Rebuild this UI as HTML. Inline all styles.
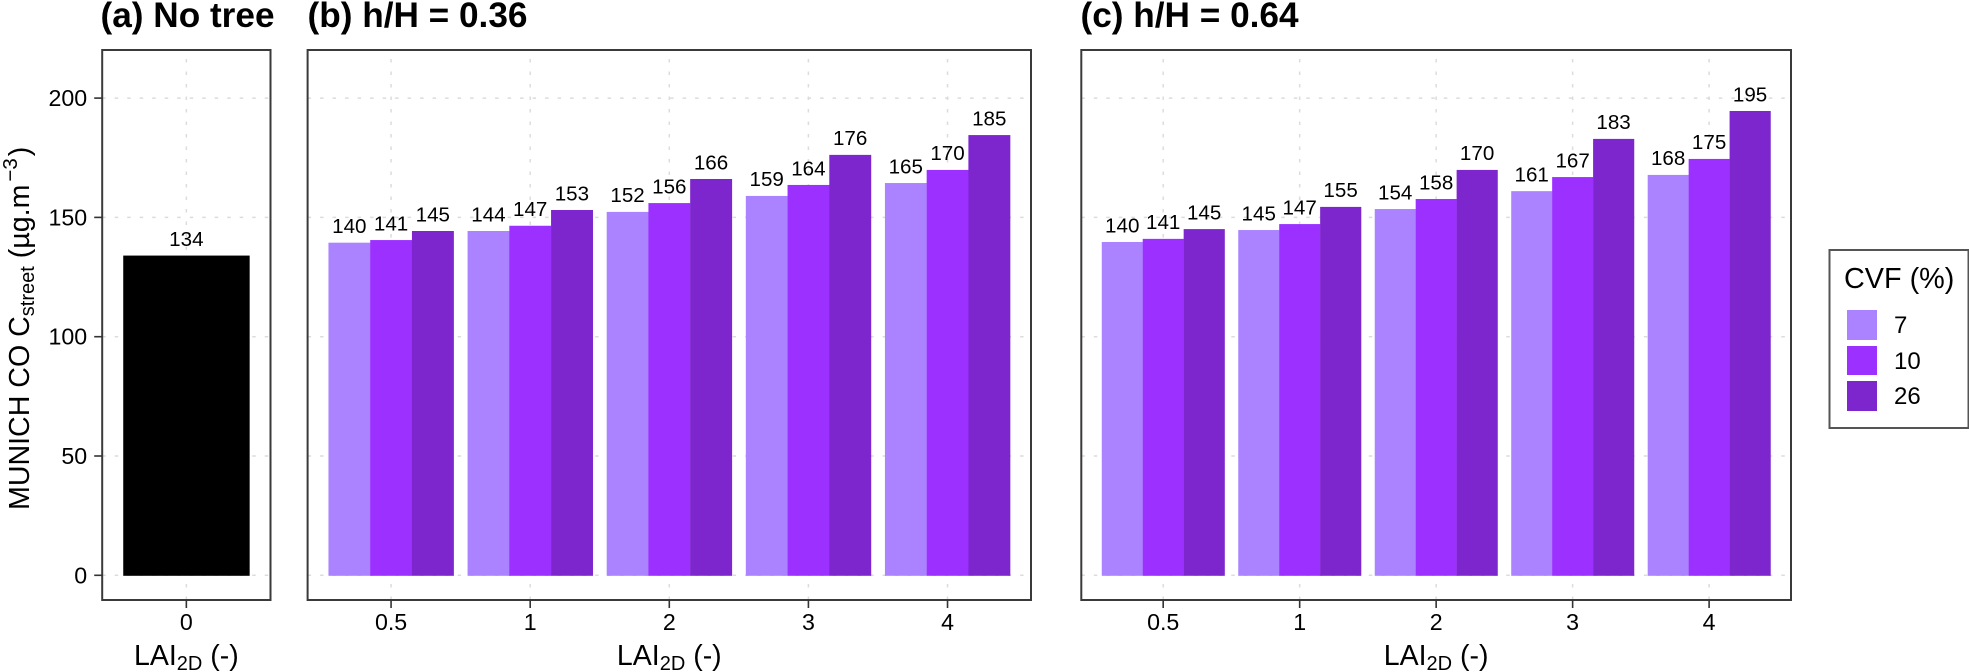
<!DOCTYPE html>
<html>
<head>
<meta charset="utf-8">
<title>MUNICH CO street concentration</title>
<style>
html,body{margin:0;padding:0;background:#fff;}
svg{display:block;}
text{font-family:"Liberation Sans",sans-serif;fill:#000;}
</style>
</head>
<body>
<svg id="chart" xmlns="http://www.w3.org/2000/svg" width="1969" height="672" viewBox="0 0 1969 672">
  <rect x="0" y="0" width="1969" height="672" fill="#fff"/>
  <text x="100.5" y="27" font-size="35.2" font-weight="bold">(a) No tree</text>
  <text x="307.5" y="27" font-size="35.2" font-weight="bold">(b) h/H = 0.36</text>
  <text x="1080.5" y="27" font-size="35.2" font-weight="bold">(c) h/H = 0.64</text>
  <text transform="translate(29,510) rotate(-90)" font-size="28.6">MUNICH CO C<tspan font-size="20" dy="5">street</tspan><tspan dy="-5"> (µg.m</tspan><tspan font-size="20.5" dy="-12" dx="3">−3</tspan><tspan dy="12" dx="2">)</tspan></text>
  <g id="panels"></g>
  <g>
    <rect x="1829.5" y="250" width="139" height="178" fill="#fff" stroke="#555" stroke-width="2"/>
    <text x="1844" y="288" font-size="28.8">CVF (%)</text>
    <rect x="1847" y="310" width="30" height="30" fill="#AB82FF"/>
    <rect x="1847" y="346" width="30" height="29" fill="#9B30FF"/>
    <rect x="1847" y="381" width="30" height="30" fill="#7D26CD"/>
    <text x="1894" y="333" font-size="24">7</text>
    <text x="1894" y="369" font-size="24">10</text>
    <text x="1894" y="404" font-size="24">26</text>
  </g>
</svg>
<script>
// ---- data ----
var yTicks = [0, 50, 100, 150, 200];
var categoriesA = ["0"];
var categoriesBC = ["0.5", "1", "2", "3", "4"];

var noTreeValues = [134];
var noTreeLabels = ["134"];

var panelB7 = [139.4, 144.3, 152.3, 159.0, 164.4];
var panelB10 = [140.5, 146.5, 156.0, 163.6, 169.9];
var panelB26 = [144.3, 153.1, 166.1, 176.2, 184.5];
var panelBLabels7 = ["140", "144", "152", "159", "165"];
var panelBLabels10 = ["141", "147", "156", "164", "170"];
var panelBLabels26 = ["145", "153", "166", "176", "185"];

var panelC7 = [139.7, 144.7, 153.5, 161.0, 167.8];
var panelC10 = [141.0, 147.2, 157.7, 166.9, 174.5];
var panelC26 = [145.1, 154.4, 169.9, 182.9, 194.6];
var panelCLabels7 = ["140", "145", "154", "161", "168"];
var panelCLabels10 = ["141", "147", "158", "167", "175"];
var panelCLabels26 = ["145", "155", "170", "183", "195"];

// ---- layout ----
var NS = "http://www.w3.org/2000/svg";
var root = document.getElementById("panels");
var plotTop = 50, plotBottom = 600;
var y0 = 575.3, pxPerUnit = 2.386;
function yScale(v) { return y0 - v * pxPerUnit; }

function make(tag, attrs, parent) {
  var el = document.createElementNS(NS, tag);
  for (var k in attrs) el.setAttribute(k, attrs[k]);
  parent.appendChild(el);
  return el;
}

function drawPanel(id, left, right, cats, seriesList, labelList, colors, showY, expand) {
  var g = make("g", {}, root);
  
  
  var unit = (right - left) / (cats.length - 1 + 2 * expand);
  function xScale(i) { return left + (expand + i) * unit; }

  yTicks.forEach(function (t) {
    var gl = make("line", {x1: left, x2: right, y1: yScale(t), y2: yScale(t), stroke: "#dcdcdc", "stroke-width": 1.5, "stroke-dasharray": "3.5 9"}, g);
    
    
  });
  cats.forEach(function (c, i) {
    var gl = make("line", {x1: xScale(i), x2: xScale(i), y1: plotBottom, y2: plotTop, stroke: "#dcdcdc", "stroke-width": 1.5, "stroke-dasharray": "3.5 9"}, g);
    
    
  });

  var n = seriesList.length;
  var barW = 0.9 * unit / n;
  seriesList.forEach(function (vals, s) {
    vals.forEach(function (v, i) {
      var bx = xScale(i) - 0.45 * unit + s * barW;
      var bar = make("rect", {x: bx, y: yScale(v), width: barW + 0.2, height: y0 - yScale(v) + 0.5, fill: colors[s]}, g);
      
      
    });
  });
  seriesList.forEach(function (vals, s) {
    vals.forEach(function (v, i) {
      var bx = xScale(i) - 0.45 * unit + s * barW;
      var lab = make("text", {x: bx + barW / 2, y: yScale(v) - 9.7, "font-size": 20.6, "text-anchor": "middle"}, g);
      
      
      lab.textContent = labelList[s][i];
    });
  });

  var frame = make("rect", {x: left, y: plotTop, width: right - left, height: plotBottom - plotTop, fill: "none", stroke: "#3a3a3a", "stroke-width": 2}, g);
  
  

  cats.forEach(function (c, i) {
    var tk = make("line", {x1: xScale(i), x2: xScale(i), y1: plotBottom, y2: plotBottom + 8, stroke: "#333", "stroke-width": 1.6}, g);
    
    
    var tl = make("text", {x: xScale(i), y: 630, "font-size": 23.2, "text-anchor": "middle"}, g);
    
    
    tl.textContent = c;
  });

  if (showY) {
    yTicks.forEach(function (t) {
      var tk = make("line", {x1: left - 8, x2: left, y1: yScale(t), y2: yScale(t), stroke: "#333", "stroke-width": 1.6}, g);
      
      
      var tl = make("text", {x: left - 15, y: yScale(t) + 8, "font-size": 23.2, "text-anchor": "end"}, g);
      
      
      tl.textContent = t;
    });
  }

  var xt = make("text", {x: (left + right) / 2, y: 665, "font-size": 28.5, "text-anchor": "middle"}, g);
  
  
  xt.appendChild(document.createTextNode("LAI"));
  var sub = make("tspan", {"font-size": 20, dy: 5}, xt);
  sub.textContent = "2D";
  var rest = make("tspan", {dy: -5}, xt);
  rest.textContent = " (-)";
}

var purples = ["#AB82FF", "#9B30FF", "#7D26CD"];
drawPanel("a", 102.2, 270.5, categoriesA, [noTreeValues], [noTreeLabels], ["#000000"], true, 0.6);
drawPanel("b", 307.6, 1031, categoriesBC, [panelB7, panelB10, panelB26], [panelBLabels7, panelBLabels10, panelBLabels26], purples, false, 0.6);
drawPanel("c", 1081.3, 1791, categoriesBC, [panelC7, panelC10, panelC26], [panelCLabels7, panelCLabels10, panelCLabels26], purples, false, 0.6);
</script>
</body>
</html>
